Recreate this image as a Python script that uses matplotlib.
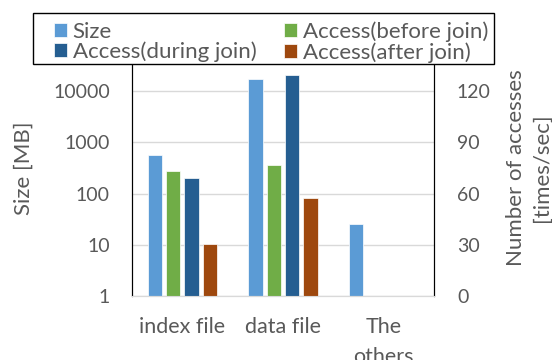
import numpy as np
import matplotlib
matplotlib.use("Agg")
import matplotlib.pyplot as plt
from matplotlib.patches import Rectangle
from matplotlib.ticker import FixedLocator, NullLocator, FixedFormatter

plt.rcParams['font.family'] = ['Lato', 'DejaVu Sans']

# データ
categories = ["index file", "data file", "The\nothers"]
size_mb = [560, 17000, 25]
access_before = [73, 76.5, 0]
access_during = [69, 129.5, 0]
access_after = [30.5, 57.5, 0]

txt = "#595959"
c_size = "#5B9BD5"
c_before = "#70AD47"
c_during = "#255E91"
c_after = "#9E480E"

W, H = 552, 360
fig = plt.figure(figsize=(W / 100, H / 100), dpi=100)
ax = fig.add_axes([132 / W, 1 - 296 / H, 302 / W, 256 / H])
ax2 = ax.twinx()

x = np.arange(len(categories))
pitch = 0.182
w = 0.145

b0 = ax.bar(x - 1.5 * pitch, size_mb, w, color=c_size, edgecolor="white", linewidth=0.5,
            zorder=2)
b1 = ax2.bar(x - 0.5 * pitch, access_before, w, color=c_before, edgecolor="white",
             linewidth=0.5)
b2 = ax2.bar(x + 0.5 * pitch, access_during, w, color=c_during, edgecolor="white",
             linewidth=0.5)
b3 = ax2.bar(x + 1.5 * pitch, access_after, w, color=c_after, edgecolor="white",
             linewidth=0.5)
for bars in (b1, b2, b3):
    for b in bars:
        if b.get_height() == 0:
            b.set_visible(False)

# 左軸: 対数 (サイズ), 右軸: 線形 (アクセス数)
ax.set_yscale("log")
ax.set_ylim(1, 1e5)
ax.yaxis.set_major_locator(FixedLocator([1, 10, 100, 1000, 10000]))
ax.yaxis.set_major_formatter(FixedFormatter(["1", "10", "100", "1000", "10000"]))
ax.yaxis.set_minor_locator(NullLocator())
ax2.set_ylim(0, 150)
ax2.set_yticks([0, 30, 60, 90, 120])
ax.set_xlim(-0.5, 2.5)
ax.set_xticks(x)
ax.set_xticklabels(categories, linespacing=1.65, fontsize=15.5)

ax.grid(axis="y", color="#D9D9D9", linewidth=1.0, zorder=0)
ax.set_axisbelow(True)

for a in (ax, ax2):
    a.spines["top"].set_visible(False)
    a.spines["left"].set_color("black")
    a.spines["right"].set_color("black")
    a.spines["bottom"].set_color("#D9D9D9")
    a.tick_params(length=0, labelcolor=txt)
    a.tick_params(axis="y", labelsize=14)
ax.tick_params(axis="y", pad=16)
ax2.tick_params(axis="y", pad=16.5)
ax.tick_params(axis="x", pad=15)

ax.set_ylabel("Size [MB]", fontsize=16, color=txt, labelpad=14)
ax2.set_ylabel("Number of accesses\n[times/sec]", fontsize=16, color=txt,
               labelpad=11, linespacing=1.38)

# 凡例 (枠は別に描く)
frame = Rectangle((33 / W, 1 - 64 / H), (494 - 33) / W, 51 / H, transform=fig.transFigure,
                  facecolor="white", edgecolor="black", linewidth=1.0, zorder=4)
fig.add_artist(frame)

leg_kw = dict(loc="upper left", fontsize=16, frameon=False, handlelength=0.59,
              handleheight=0.59, handletextpad=0.25, borderaxespad=0, borderpad=0,
              labelspacing=0.0)
leg1 = fig.legend([b0, b2], ["Size", "Access(during join)"],
                  bbox_to_anchor=(54 / W, 1 - 21.5 / H), **leg_kw)
leg2 = fig.legend([b1, b3], ["Access(before join)", "Access(after join)"],
                  bbox_to_anchor=(284 / W, 1 - 21.5 / H), **leg_kw)
for leg in (leg1, leg2):
    leg.set_zorder(5)
    for t in leg.get_texts():
        t.set_color(txt)

fig.savefig("out.png", dpi=100)
